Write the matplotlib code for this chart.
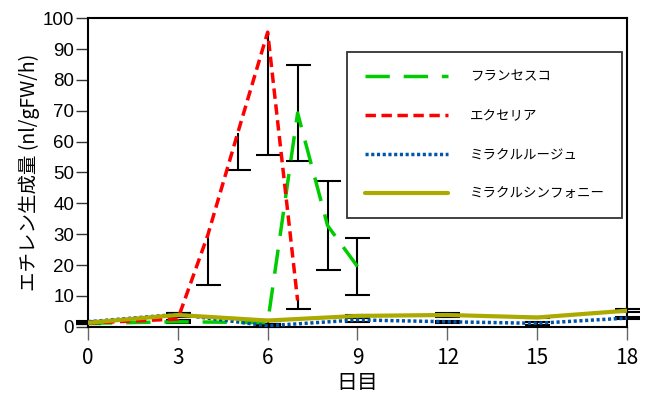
import matplotlib.pyplot as plt

# data
days_francesca = [0, 3, 6, 7, 8, 9]
francesca = [1.1, 1.6, 1.3, 69.3, 32.8, 19.5]
francesca_err = [0.3, 0.3, 0.4, 15.5, 14.5, 9.2]

days_excelia = [0, 3, 4, 5, 6, 7]
excelia = [1.2, 2.5, 29.7, 62.8, 95.5, 8.5]
excelia_err_low = [0.2, 0.3, 16.2, 12.0, 39.8, 2.9]

days_rouge = [0, 3, 6, 9, 12, 15, 18]
rouge = [1.6, 4.0, 0.3, 2.2, 1.6, 1.1, 2.8]
rouge_err = [0.3, 0.6, 0.3, 0.65, 0.4, 0.5, 0.4]

days_symphony = [0, 3, 6, 9, 12, 15, 18]
symphony = [1.3, 3.8, 2.0, 3.5, 3.8, 3.0, 5.2]
symphony_err = [0.3, 0.5, 0.3, 0.3, 0.5, 0.3, 0.5]

labels = ["フランセスコ", "エクセリア", "ミラクルルージュ", "ミラクルシンフォニー"]
xticks = [0, 3, 6, 9, 12, 15, 18]

jp = ["Noto Sans CJK JP", "DejaVu Sans"]

fig = plt.figure(figsize=(6.51, 3.94), dpi=100)
ax = fig.add_axes([0.1352, 0.1708, 0.8279, 0.7828])

# error bars first, lines on top
eb = dict(fmt="none", ecolor="black", elinewidth=1.5, capsize=9, capthick=1.5,
          zorder=2, clip_on=False)
ax.errorbar(days_francesca, francesca, yerr=francesca_err, **eb)
# excelia only has the lower half of the bar
ex_eb = ax.errorbar(days_excelia, excelia, yerr=[excelia_err_low, [0] * len(excelia)], **eb)
ex_eb[1][1].set_visible(False)
ax.errorbar(days_rouge, rouge, yerr=rouge_err, **eb)
ax.errorbar(days_symphony, symphony, yerr=symphony_err, **eb)

ax.plot(days_francesca, francesca, color="#00cc00", lw=2.5, dashes=(7, 4),
        label=labels[0], zorder=3)
ax.plot(days_excelia, excelia, color="#ff0000", lw=2.5, dashes=(3, 1.6),
        label=labels[1], zorder=3)
ax.plot(days_rouge, rouge, color="#0055aa", lw=2.5, dashes=(0.9, 0.75),
        label=labels[2], zorder=3)
ax.plot(days_symphony, symphony, color="#aaaa00", lw=3, solid_capstyle="round",
        label=labels[3], zorder=4)

ax.set_xlim(0, 18)
ax.set_ylim(0, 100)
ax.set_xticks(xticks)
ax.set_yticks(range(0, 101, 10))

for s in ax.spines.values():
    s.set_linewidth(1.5)

ax.tick_params(axis="x", direction="out", length=9.5, width=1, color="#666666", pad=5)
ax.tick_params(axis="y", direction="out", length=9, width=1, color="#333333", pad=1)
for t in ax.get_xticklabels():
    t.set_family(["Liberation Sans Narrow", "Noto Sans CJK JP"])
    t.set_fontsize(15)
for t in ax.get_yticklabels():
    t.set_family("Liberation Sans")
    t.set_fontsize(13.5)

ax.set_xlabel("日目", family=jp, fontsize=15, labelpad=2)
ax.set_ylabel("エチレン生成量 (nl/gFW/h)", family=jp, fontsize=14, labelpad=2)

leg = ax.legend(loc="upper left", bbox_to_anchor=(0.4805, 0.8907), borderaxespad=0,
                prop={"family": jp, "size": 9.7}, handlelength=6.2,
                handletextpad=1.6, labelspacing=1.85, borderpad=1.3,
                fancybox=False, frameon=True)
leg.get_frame().set_edgecolor("black")
leg.get_frame().set_linewidth(1.3)

plt.savefig("out.png", dpi=100)
